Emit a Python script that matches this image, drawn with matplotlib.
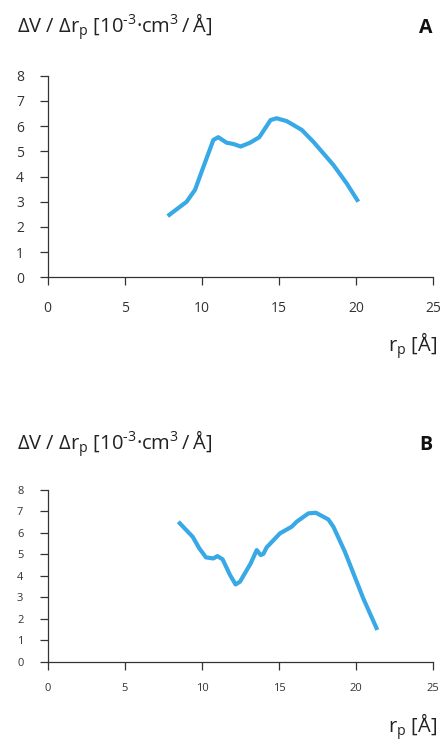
import matplotlib
matplotlib.use("Agg")
import matplotlib.pyplot as plt

plt.rcParams['font.family'] = ['Open Sans', 'DejaVu Sans']
plt.rcParams['mathtext.fontset'] = 'custom'
plt.rcParams['mathtext.rm'] = 'Open Sans'

# Pore size distribution, sample A
r_a = [7.78, 9.01, 9.55, 9.98, 10.74, 11.06, 11.60, 12.04, 12.51, 13.12, 13.72,
       14.45, 14.84, 15.49, 16.47, 17.22, 18.52, 19.38, 20.14]
dv_a = [2.43, 3.00, 3.47, 4.19, 5.45, 5.56, 5.34, 5.29, 5.19, 5.34, 5.56,
        6.24, 6.31, 6.20, 5.85, 5.38, 4.46, 3.73, 3.00]

# Pore size distribution, sample B
r_b = [8.47, 9.40, 9.83, 10.26, 10.74, 11.00, 11.34, 11.82, 12.18, 12.47, 13.16,
       13.55, 13.81, 13.98, 14.20, 15.06, 15.82, 16.14, 16.90, 17.39, 18.19,
       18.52, 19.27, 20.46, 21.37]
dv_b = [6.52, 5.82, 5.28, 4.86, 4.81, 4.92, 4.77, 4.04, 3.60, 3.73, 4.58,
        5.20, 4.97, 5.02, 5.33, 5.98, 6.29, 6.52, 6.91, 6.94, 6.63,
        6.29, 5.12, 2.95, 1.48]

x_ticks = [0, 5, 10, 15, 20, 25]
y_ticks = [0, 1, 2, 3, 4, 5, 6, 7, 8]

LINE = '#38A8E6'
INK = '#333333'
W, H = 444, 742

fig = plt.figure(figsize=(W / 100, H / 100), dpi=100)

ylabel = (r'ΔV / Δr$_\mathregular{p}$ [10$^\mathregular{‐3}$·cm$^\mathregular{3}$'
          r'$\mathregular{\,/\,}$Å]')
xlabel = r'r$_\mathregular{p}$ [Å]'


def panel(rect, x, y, tick_fs, xpad, ypad):
    ax = fig.add_axes(rect)
    ax.plot(x, y, color=LINE, lw=3.0, solid_capstyle='butt', solid_joinstyle='round')
    ax.set_xlim(0, 25)
    ax.set_ylim(0, 8)
    ax.set_xticks(x_ticks)
    ax.set_yticks(y_ticks)
    for s in ('top', 'right'):
        ax.spines[s].set_visible(False)
    for s in ('left', 'bottom'):
        ax.spines[s].set_color(INK)
        ax.spines[s].set_linewidth(0.9)
    ax.tick_params(axis='x', direction='out', length=5.5, width=0.9, color=INK,
                   labelsize=tick_fs, labelcolor=INK, pad=xpad)
    ax.tick_params(axis='y', direction='out', length=5.5, width=0.9, color=INK,
                   labelsize=tick_fs, labelcolor=INK, pad=ypad)
    ax.patch.set_visible(False)
    return ax


panel([47.7 / W, 1 - 277.3 / H, 385.6 / W, 201.6 / H], r_a, dv_a, 10, 11.5, 11.5)
panel([47.7 / W, 1 - 661.7 / H, 385.6 / W, 171.7 / H], r_b, dv_b, 8, 9.5, 12)

fig.text(17 / W, 1 - 33 / H, ylabel, fontsize=14.5, color='#222222', va='baseline')
fig.text(432 / W, 1 - 33 / H, 'A', fontsize=14, fontweight='bold', color='#111111',
         ha='right', va='baseline')
fig.text(437 / W, 1 - 352 / H, xlabel, fontsize=14.5, color='#222222', ha='right', va='baseline')

fig.text(17 / W, 1 - 450 / H, ylabel, fontsize=14.5, color='#222222', va='baseline')
fig.text(432 / W, 1 - 450 / H, 'B', fontsize=14, fontweight='bold', color='#111111',
         ha='right', va='baseline')
fig.text(437 / W, 1 - 733 / H, xlabel, fontsize=14.5, color='#222222', ha='right', va='baseline')

fig.savefig('out.png', dpi=100)
